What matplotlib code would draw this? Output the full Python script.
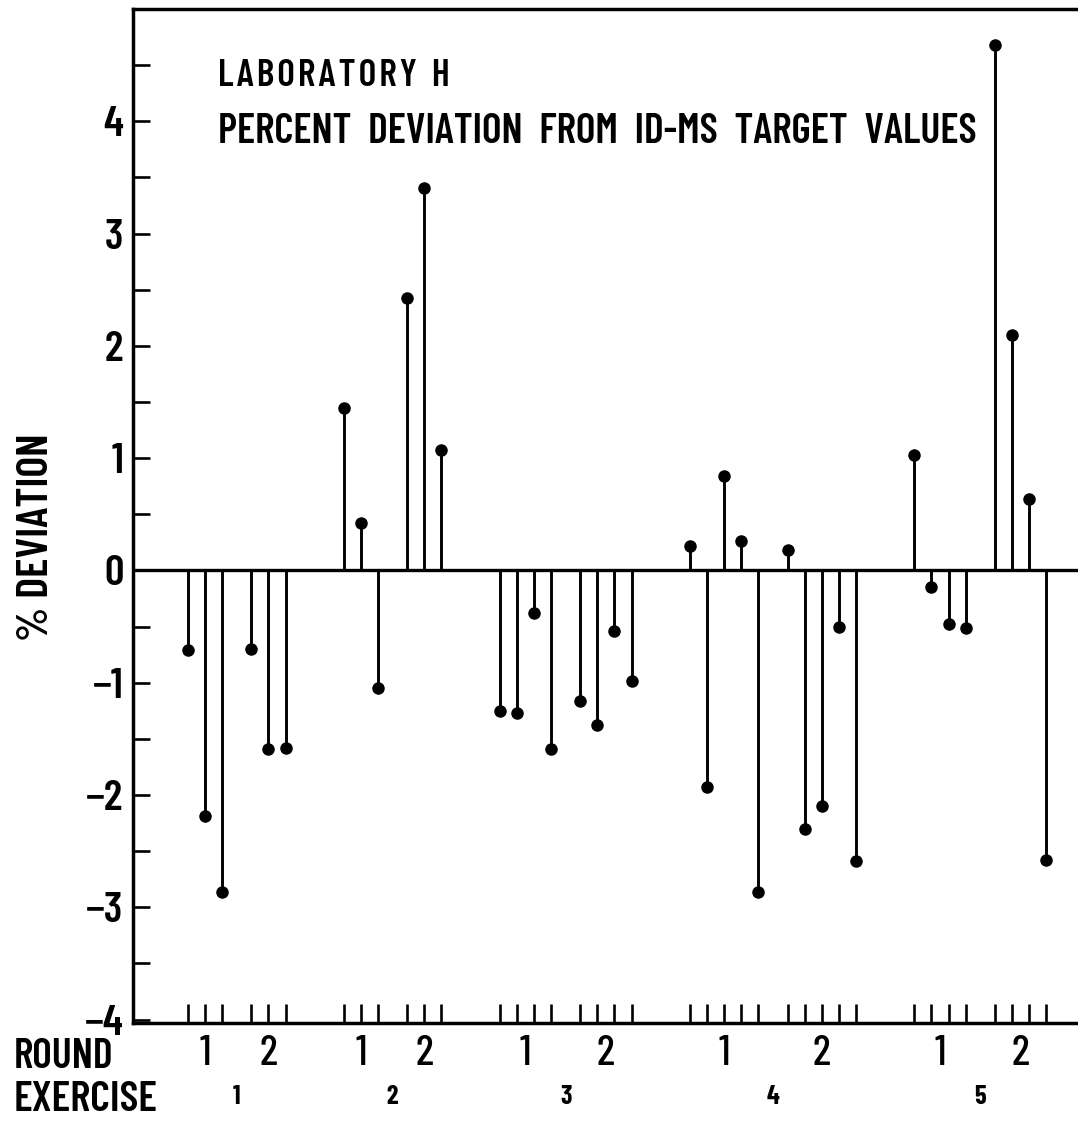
import numpy as np
import matplotlib
matplotlib.use('Agg')
import matplotlib.pyplot as plt
from matplotlib.ticker import MultipleLocator

plt.rcParams['font.family'] = ['Barlow Condensed', 'Liberation Sans', 'DejaVu Sans']

# ── Data: % deviation per sample, grouped by exercise and round ───────
EXERCISES = ['1', '2', '3', '4', '5']
ROUNDS = ['1', '2']

ex1_r1 = [-0.71, -2.19, -2.86]
ex1_r2 = [-0.70, -1.59, -1.58]
ex2_r1 = [1.45, 0.42, -1.05]
ex2_r2 = [2.43, 3.41, 1.07]
ex3_r1 = [-1.25, -1.27, -0.38, -1.59]
ex3_r2 = [-1.16, -1.38, -0.54, -0.98]
ex4_r1 = [0.22, -1.93, 0.84, 0.26, -2.86]
ex4_r2 = [0.18, -2.30, -2.10, -0.50, -2.59]
ex5_r1 = [1.03, -0.15, -0.48, -0.51]
ex5_r2 = [4.68, 2.10, 0.64, -2.58]

groups = [[ex1_r1, ex1_r2], [ex2_r1, ex2_r2], [ex3_r1, ex3_r2],
          [ex4_r1, ex4_r2], [ex5_r1, ex5_r2]]

# ── Sample positions (step 1, wider gaps between rounds / exercises) ──
ROUND_GAP = 1.7
EX_GAP = 3.4

xs, vals = [], []
round_centres, ex_centres = [], []
pos = 0.0
for e, rounds in enumerate(groups):
    ex_start = pos
    for r, v in enumerate(rounds):
        rx = pos + np.arange(len(v))
        xs.extend(rx)
        vals.extend(v)
        round_centres.append(rx.mean())
        pos = rx[-1] + (ROUND_GAP if r == 0 else EX_GAP)
    ex_centres.append((ex_start + rx[-1]) / 2)
xs = np.array(xs)
vals = np.array(vals)

# ── Figure ────────────────────────────────────────────────────────────
W, H = 1078, 1128
TOP, BOT = 9, 1023          # frame edges in pixels
fig = plt.figure(figsize=(W / 100, H / 100), dpi=100)
ax = fig.add_axes([133 / W, 1 - BOT / H, (W - 133) / W, (BOT - TOP) / H])

ax.vlines(xs, 0, vals, color='black', linewidth=2.1, zorder=3)
ax.plot(xs, vals, 'o', color='black', markersize=8, zorder=4)
ax.axhline(0, color='black', linewidth=2.4, zorder=2)

ax.set_xlim(-3.2, 51.95)
ax.set_ylim(-4.03, 5.0)

for side in ['left', 'top', 'bottom']:
    ax.spines[side].set_linewidth(2.5)
ax.spines['right'].set_visible(False)

ax.yaxis.set_minor_locator(MultipleLocator(0.5))
ax.tick_params(axis='y', which='both', direction='in', length=12,
               width=1.9, pad=7)
ax.set_yticks(range(-4, 5))
ax.set_yticklabels([f'{t}' if t >= 0 else f'\u2212{-t}' for t in range(-4, 5)],
                   fontsize=31, fontweight='semibold')

ax.set_xticks(xs)
ax.set_xticklabels([])
ax.tick_params(axis='x', which='both', direction='in', length=14, width=1.9)

fig.text(37 / W, 1 - 537 / H, '% DEVIATION', rotation=90, fontsize=32,
         fontweight='semibold', ha='center', va='center')

# Title text inside the frame
def axy(py):
    return 1 - (py - TOP) / (BOT - TOP)

x0 = (218 - 133) / (W - 133)
ax.text(x0, axy(76), '\u200a'.join('LABORATORY') + '  H',
        transform=ax.transAxes, fontsize=27, fontweight='semibold',
        va='center', ha='left')
ax.text(x0, axy(132), 'PERCENT  DEVIATION  FROM  ID-MS  TARGET  VALUES',
        transform=ax.transAxes, fontsize=30, fontweight='semibold',
        va='center', ha='left')

# ROUND / EXERCISE labels below the axis
trans_x = ax.get_xaxis_transform()
for e, rc in enumerate(round_centres):
    ax.text(rc, axy(1054), ROUNDS[e % 2], transform=trans_x, fontsize=31,
            fontweight='medium', ha='center', va='center')
for e, ec in enumerate(ex_centres):
    ax.text(ec, axy(1097), EXERCISES[e], transform=trans_x, fontsize=19,
            fontweight='bold', ha='center', va='center')

fig.text(14 / W, 1 - 1057 / H, 'ROUND', fontsize=30, fontweight='semibold',
         ha='left', va='center')
fig.text(14 / W, 1 - 1100 / H, 'EXERCISE', fontsize=31, fontweight='semibold',
         ha='left', va='center')

fig.savefig('out.png', dpi=100, facecolor='white')
